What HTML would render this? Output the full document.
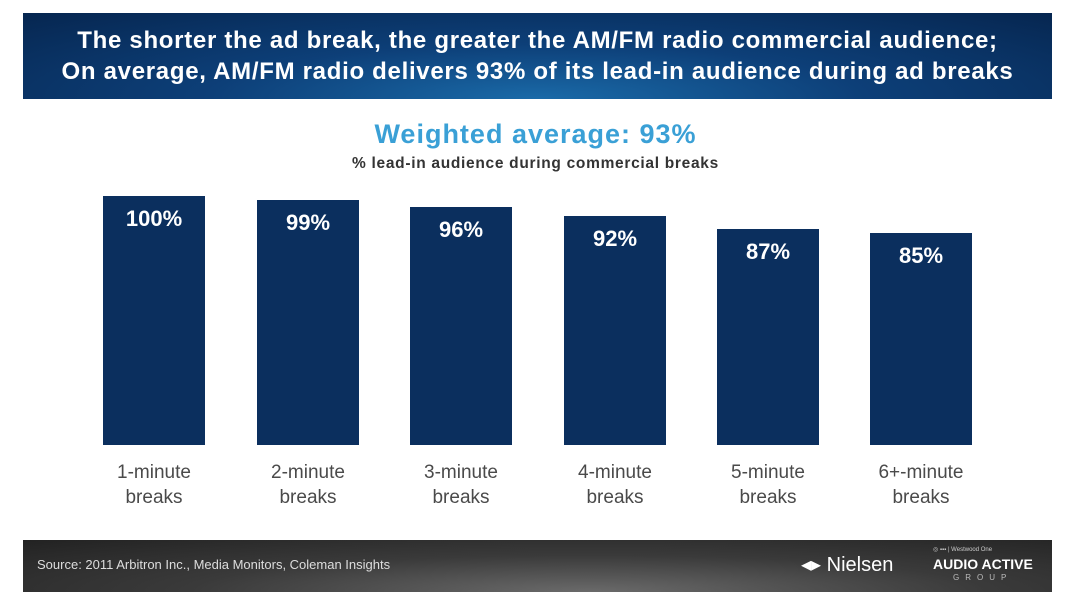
<!DOCTYPE html>
<html><head><style>
body{margin:0;width:1071px;height:607px;background:#fff;position:relative;overflow:hidden;font-family:"Liberation Sans",sans-serif}
.hdr{position:absolute;left:23px;top:13px;width:1029px;height:86px;background:radial-gradient(ellipse at 50% 100%,#1a6aa8 0%,#0d3f78 45%,#062650 100%);color:#fff;font-weight:bold;font-size:24px;text-align:center;line-height:31px;padding-top:12px;box-sizing:border-box;letter-spacing:0.7px;white-space:nowrap}
.t1{position:absolute;left:0;width:1071px;top:119px;text-align:center;color:#3aa0d6;font-weight:bold;font-size:27px;letter-spacing:1px}
.t2{position:absolute;left:0;width:1071px;top:155px;text-align:center;color:#333;font-weight:bold;font-size:15.5px;letter-spacing:0.7px}
.bar{position:absolute;width:102px;background:#0b2f5e;bottom:162px;color:#fff;font-weight:bold;font-size:22px;text-align:center;padding-top:10px;box-sizing:border-box}
.lab{position:absolute;top:460px;width:160px;text-align:center;color:#4a4a4a;font-size:19px;line-height:25px}
.ftr{position:absolute;left:23px;top:540px;width:1029px;height:52px;background:radial-gradient(ellipse at 55% 100%,#6a6a6a 0%,#3a3a3a 50%,#222 100%);color:#ddd;font-size:13px}
</style></head><body>
<div class="hdr">The shorter the ad break, the greater the AM/FM radio commercial audience;<br>On average, AM/FM radio delivers 93% of its lead-in audience during ad breaks</div>
<div class="t1">Weighted average: 93%</div>
<div class="t2">% lead-in audience during commercial breaks</div>
<div class="bar" style="left:103px;top:196px">100%</div>
<div class="bar" style="left:257px;top:200px">99%</div>
<div class="bar" style="left:410px;top:207px">96%</div>
<div class="bar" style="left:564px;top:216px">92%</div>
<div class="bar" style="left:717px;top:229px">87%</div>
<div class="bar" style="left:870px;top:233px">85%</div>
<div class="lab" style="left:74px">1-minute<br>breaks</div>
<div class="lab" style="left:228px">2-minute<br>breaks</div>
<div class="lab" style="left:381px">3-minute<br>breaks</div>
<div class="lab" style="left:535px">4-minute<br>breaks</div>
<div class="lab" style="left:688px">5-minute<br>breaks</div>
<div class="lab" style="left:841px">6+-minute<br>breaks</div>
<div class="ftr">
<div style="position:absolute;left:14px;top:17px">Source: 2011 Arbitron Inc., Media Monitors, Coleman Insights</div>
<div style="position:absolute;left:778px;top:12px;font-size:20px;color:#fff">◂▸ Nielsen</div>
<div style="position:absolute;left:910px;top:6px;font-size:6px;color:#ccc">◎ ▪▪▪ | Westwood One</div>
<div style="position:absolute;left:910px;top:16px;font-size:14px;font-weight:bold;color:#fff">AUDIO ACTIVE</div>
<div style="position:absolute;left:930px;top:33px;font-size:8px;letter-spacing:6px;color:#bbb">GROUP</div>
</div>
</body></html>
